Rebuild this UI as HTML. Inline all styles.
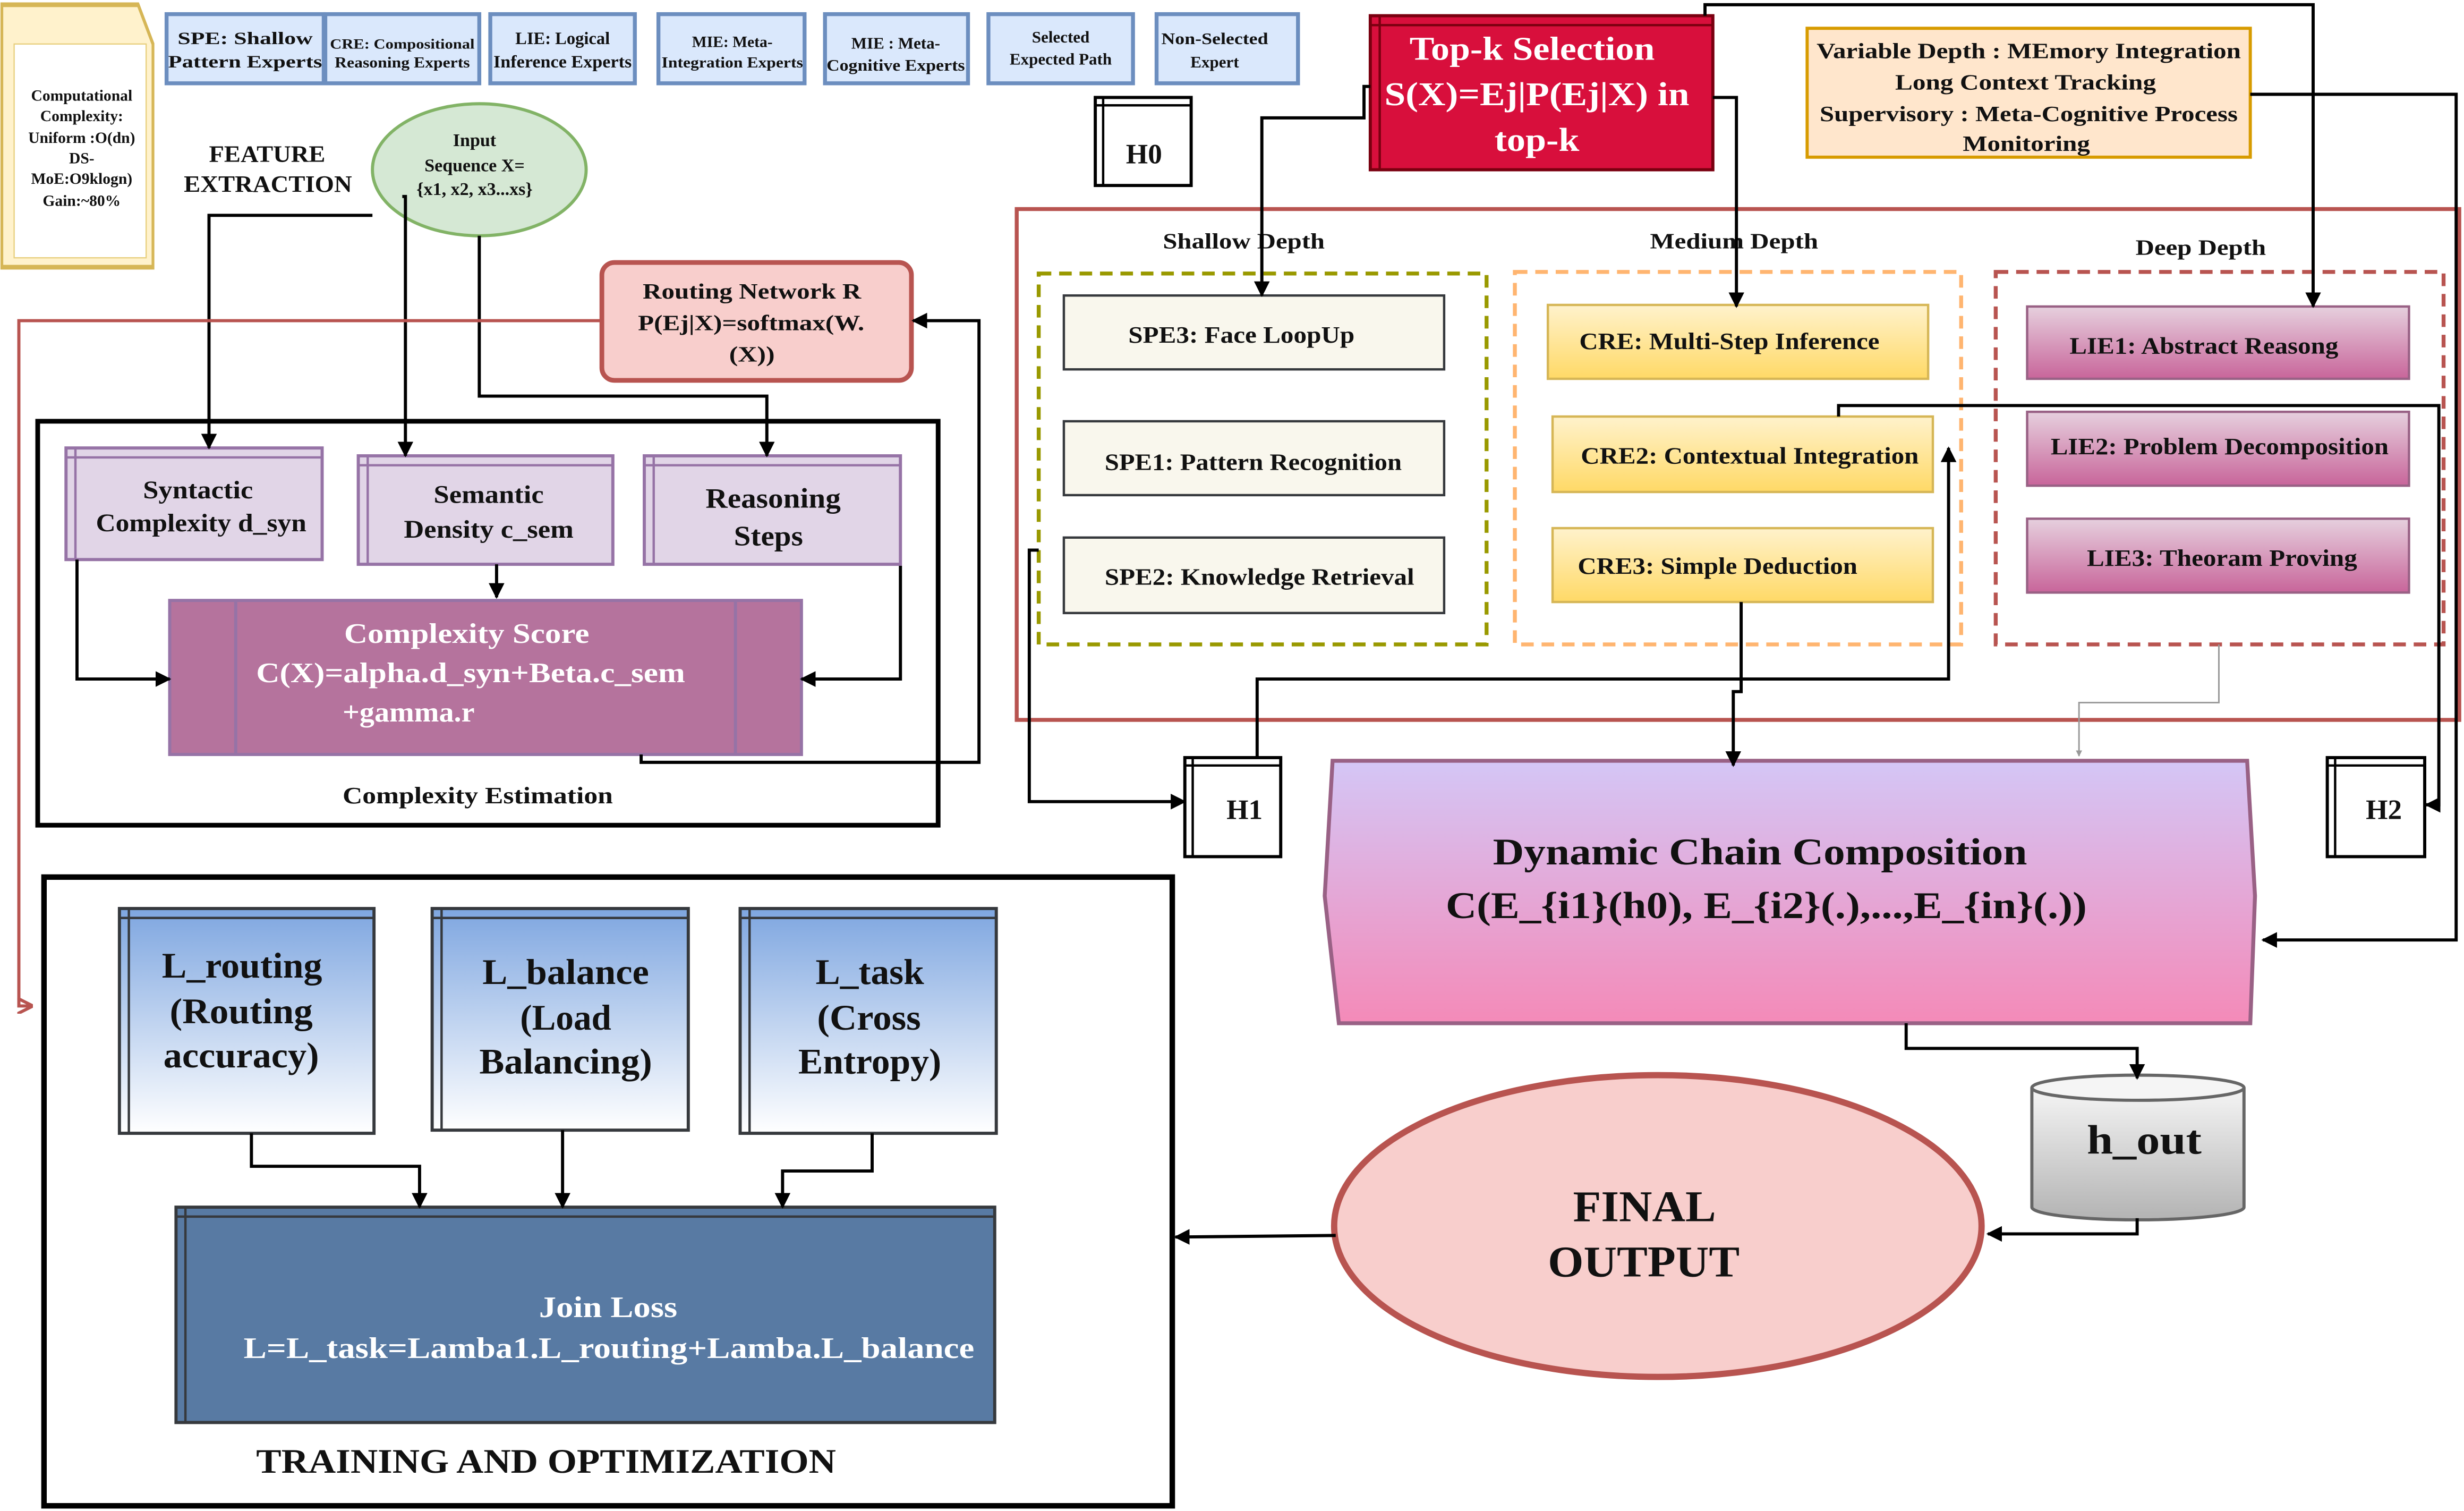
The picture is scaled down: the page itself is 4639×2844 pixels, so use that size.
<!DOCTYPE html>
<html><head><meta charset="utf-8"><style>
html,body{margin:0;padding:0;background:#fff;}
svg{display:block;}
text{font-family:"Liberation Serif",serif;font-weight:bold;fill:#111;}
</style></head><body>
<svg width="4639" height="2844" viewBox="0 0 1568 961.3" preserveAspectRatio="none" xmlns="http://www.w3.org/2000/svg">
<defs>
<marker id="a" viewBox="0 0 10 10" refX="9" refY="5" markerWidth="5" markerHeight="5" orient="auto"><path d="M0,0 L10,5 L0,10 z" fill="#000"/></marker>
<marker id="ar" viewBox="0 0 10 10" refX="9" refY="5" markerWidth="5" markerHeight="5" orient="auto"><path d="M0,0 L10,5 L0,10" fill="none" stroke="#b85450" stroke-width="2"/></marker>
<marker id="ag" viewBox="0 0 10 10" refX="9" refY="5" markerWidth="4" markerHeight="4" orient="auto"><path d="M0,0 L10,5 L0,10 z" fill="#999"/></marker>
<linearGradient id="gy" x1="0" y1="0" x2="0" y2="1"><stop offset="0" stop-color="#fff2cc"/><stop offset="1" stop-color="#ffd966"/></linearGradient>
<linearGradient id="gp" x1="0" y1="0" x2="0" y2="1"><stop offset="0" stop-color="#e6d0de"/><stop offset="1" stop-color="#c8659a"/></linearGradient>
<linearGradient id="gb" x1="0" y1="0" x2="0" y2="1"><stop offset="0" stop-color="#7ea6e0"/><stop offset="1" stop-color="#ffffff"/></linearGradient>
<linearGradient id="gd" x1="0" y1="0" x2="0" y2="1"><stop offset="0" stop-color="#d4c6f6"/><stop offset="1" stop-color="#f48ab8"/></linearGradient>
<linearGradient id="gg" x1="0" y1="0" x2="0" y2="1"><stop offset="0" stop-color="#f5f5f5"/><stop offset="1" stop-color="#b3b3b3"/></linearGradient>
</defs>

<!-- note -->
<path d="M2,3 L149,3 L165,28 L165,170 L2,170 Z" transform="scale(0.59,1)" fill="#fff2cc" stroke="#d6b656" stroke-width="3"/>
<rect x="9" y="28" width="84" height="136" fill="#fff" stroke="#e8d080" stroke-width="0.8"/>
<g font-size="10" text-anchor="middle">
<text x="52" y="64">Computational</text><text x="52" y="77">Complexity:</text><text x="52" y="91">Uniform :O(dn)</text><text x="52" y="104">DS-</text><text x="52" y="117">MoE:O9klogn)</text><text x="52" y="131">Gain:~80%</text>
</g>

<!-- legend -->
<g fill="#dae8fc" stroke="#6c8ebf" stroke-width="2.5">
<rect x="106" y="9" width="100" height="44"/><rect x="207" y="9" width="98" height="44"/><rect x="312" y="9" width="92" height="44"/><rect x="419" y="9" width="93" height="44"/><rect x="525" y="9" width="91" height="44"/><rect x="629" y="9" width="92" height="44"/><rect x="736" y="9" width="90" height="44"/>
</g>
<g font-size="11" text-anchor="middle" lengthAdjust="spacingAndGlyphs">
<text x="156" y="28" textLength="86" lengthAdjust="spacingAndGlyphs">SPE: Shallow</text><text x="156" y="43" textLength="98" lengthAdjust="spacingAndGlyphs">Pattern Experts</text>
<text x="256" y="31" font-size="9" textLength="92" lengthAdjust="spacingAndGlyphs">CRE: Compositional</text><text x="256" y="43" font-size="9.5" textLength="86" lengthAdjust="spacingAndGlyphs">Reasoning Experts</text>
<text x="358" y="28">LIE: Logical</text><text x="358" y="43" textLength="88" lengthAdjust="spacingAndGlyphs">Inference Experts</text>
<text x="466" y="30" font-size="10">MIE: Meta-</text><text x="466" y="43" font-size="9.5" textLength="90" lengthAdjust="spacingAndGlyphs">Integration Experts</text>
<text x="570" y="31" font-size="10.5">MIE : Meta-</text><text x="570" y="45" font-size="10.5" textLength="88" lengthAdjust="spacingAndGlyphs">Cognitive Experts</text>
<text x="675" y="27" font-size="10.5">Selected</text><text x="675" y="41" font-size="10.5">Expected Path</text>
<text x="773" y="28" font-size="10.5" textLength="68" lengthAdjust="spacingAndGlyphs">Non-Selected</text><text x="773" y="43" font-size="10.5">Expert</text>
</g>

<!-- H0 -->
<rect x="697" y="62" width="61" height="56" fill="#fff" stroke="#000" stroke-width="2"/>
<line x1="702" y1="62" x2="702" y2="118" stroke="#000" stroke-width="1.5"/><line x1="697" y1="67" x2="758" y2="67" stroke="#000" stroke-width="1.5"/>
<text x="728" y="104" font-size="18" text-anchor="middle">H0</text>

<!-- top-k -->
<rect x="872" y="10" width="218" height="98" fill="#d80f3c" stroke="#7a0010" stroke-width="2"/>
<line x1="878" y1="10" x2="878" y2="108" stroke="#7a0010" stroke-width="1.5"/><line x1="872" y1="16" x2="1090" y2="16" stroke="#7a0010" stroke-width="1.5"/>
<g font-size="21"><text x="897" y="38" style="fill:#fff" textLength="156" lengthAdjust="spacingAndGlyphs">Top-k Selection</text><text x="881" y="67" style="fill:#fff" textLength="194" lengthAdjust="spacingAndGlyphs">S(X)=Ej|P(Ej|X) in</text><text x="951" y="96" style="fill:#fff" textLength="54" lengthAdjust="spacingAndGlyphs">top-k</text></g>

<!-- variable depth -->
<rect x="1150" y="18" width="282" height="82" fill="#ffe6cc" stroke="#d79b00" stroke-width="2"/>
<g font-size="14"><text x="1156" y="37" textLength="270" lengthAdjust="spacingAndGlyphs">Variable Depth : MEmory Integration</text><text x="1206" y="57" textLength="166" lengthAdjust="spacingAndGlyphs">Long Context Tracking</text><text x="1158" y="77" textLength="266" lengthAdjust="spacingAndGlyphs">Supervisory : Meta-Cognitive Process</text><text x="1249" y="96" textLength="81" lengthAdjust="spacingAndGlyphs">Monitoring</text></g>

<!-- feature extraction -->
<text x="133" y="103" font-size="15" textLength="74" lengthAdjust="spacingAndGlyphs">FEATURE</text><text x="117" y="122" font-size="15" textLength="107" lengthAdjust="spacingAndGlyphs">EXTRACTION</text>
<ellipse cx="305" cy="108" rx="68" ry="42" fill="#d5e8d4" stroke="#82b366" stroke-width="2"/>
<g font-size="11.5" text-anchor="middle"><text x="302" y="93">Input</text><text x="302" y="109">Sequence X=</text><text x="302" y="124">{x1, x2, x3...xs}</text></g>

<!-- routing -->
<rect x="383" y="167" width="197" height="75" rx="8" fill="#f8cecc" stroke="#b85450" stroke-width="3"/>
<g font-size="14"><text x="409" y="190" textLength="139" lengthAdjust="spacingAndGlyphs">Routing Network R</text><text x="406" y="210" textLength="144" lengthAdjust="spacingAndGlyphs">P(Ej|X)=softmax(W.</text><text x="464" y="230" textLength="29" lengthAdjust="spacingAndGlyphs">(X))</text></g>

<!-- complexity estimation -->
<rect x="24" y="268" width="573" height="257" fill="none" stroke="#000" stroke-width="3"/>
<text x="218" y="511" font-size="15" textLength="172" lengthAdjust="spacingAndGlyphs">Complexity Estimation</text>
<g fill="#e1d5e7" stroke="#9673a6" stroke-width="2">
<rect x="42" y="285" width="163" height="71"/><rect x="228" y="290" width="162" height="69"/><rect x="410" y="290" width="163" height="69"/>
</g>
<g stroke="#9673a6" stroke-width="1.5"><line x1="48" y1="285" x2="48" y2="356"/><line x1="42" y1="291" x2="205" y2="291"/><line x1="234" y1="290" x2="234" y2="359"/><line x1="228" y1="296" x2="390" y2="296"/><line x1="416" y1="290" x2="416" y2="359"/><line x1="410" y1="296" x2="573" y2="296"/></g>
<g font-size="16"><text x="91" y="317" textLength="70" lengthAdjust="spacingAndGlyphs">Syntactic</text><text x="61" y="338" textLength="134" lengthAdjust="spacingAndGlyphs">Complexity d_syn</text>
<text x="276" y="320" textLength="70" lengthAdjust="spacingAndGlyphs">Semantic</text><text x="257" y="342" textLength="108" lengthAdjust="spacingAndGlyphs">Density c_sem</text>
<text x="449" y="323" font-size="18" textLength="86" lengthAdjust="spacingAndGlyphs">Reasoning</text><text x="467" y="347" font-size="18" textLength="44" lengthAdjust="spacingAndGlyphs">Steps</text></g>
<rect x="108" y="382" width="402" height="98" fill="#b5739d" stroke="#9673a6" stroke-width="2"/>
<line x1="150" y1="382" x2="150" y2="480" stroke="#9673a6" stroke-width="2"/><line x1="468" y1="382" x2="468" y2="480" stroke="#9673a6" stroke-width="2"/>
<g font-size="18"><text x="219" y="409" style="fill:#fff" textLength="156" lengthAdjust="spacingAndGlyphs">Complexity Score</text><text x="163" y="434" style="fill:#fff" textLength="273" lengthAdjust="spacingAndGlyphs">C(X)=alpha.d_syn+Beta.c_sem</text><text x="218" y="459" style="fill:#fff" textLength="84" lengthAdjust="spacingAndGlyphs">+gamma.r</text></g>

<!-- big red container -->
<rect x="647" y="133" width="918" height="325" fill="none" stroke="#b85450" stroke-width="2.5"/>
<g font-size="14"><text x="740" y="158" textLength="103" lengthAdjust="spacingAndGlyphs">Shallow Depth</text><text x="1050" y="158" textLength="107" lengthAdjust="spacingAndGlyphs">Medium Depth</text><text x="1359" y="162" textLength="83" lengthAdjust="spacingAndGlyphs">Deep Depth</text></g>
<rect x="661" y="174" width="285" height="236" fill="none" stroke="#999900" stroke-width="2.5" stroke-dasharray="8,5"/>
<rect x="964" y="173" width="284" height="237" fill="none" stroke="#ffb570" stroke-width="2.5" stroke-dasharray="8,5"/>
<rect x="1270" y="173" width="285" height="237" fill="none" stroke="#b85450" stroke-width="2.5" stroke-dasharray="8,5"/>
<g fill="#f9f7ed" stroke="#36393d" stroke-width="1.5"><rect x="677" y="188" width="242" height="47"/><rect x="677" y="268" width="242" height="47"/><rect x="677" y="342" width="242" height="48"/></g>
<g font-size="15"><text x="718" y="218" textLength="144" lengthAdjust="spacingAndGlyphs">SPE3: Face LoopUp</text><text x="703" y="299" textLength="189" lengthAdjust="spacingAndGlyphs">SPE1: Pattern Recognition</text><text x="703" y="372" textLength="197" lengthAdjust="spacingAndGlyphs">SPE2: Knowledge Retrieval</text></g>
<g fill="url(#gy)" stroke="#d6b656" stroke-width="1.5"><rect x="985" y="194" width="242" height="47"/><rect x="988" y="265" width="242" height="48"/><rect x="988" y="336" width="242" height="47"/></g>
<g font-size="15"><text x="1005" y="222" textLength="191" lengthAdjust="spacingAndGlyphs">CRE: Multi-Step Inference</text><text x="1006" y="295" textLength="215" lengthAdjust="spacingAndGlyphs">CRE2: Contextual Integration</text><text x="1004" y="365" textLength="178" lengthAdjust="spacingAndGlyphs">CRE3: Simple Deduction</text></g>
<g fill="url(#gp)" stroke="#996185" stroke-width="1.5"><rect x="1290" y="195" width="243" height="46"/><rect x="1290" y="262" width="243" height="47"/><rect x="1290" y="330" width="243" height="47"/></g>
<g font-size="15"><text x="1317" y="225" textLength="171" lengthAdjust="spacingAndGlyphs">LIE1: Abstract Reasong</text><text x="1305" y="289" textLength="215" lengthAdjust="spacingAndGlyphs">LIE2: Problem Decomposition</text><text x="1328" y="360" textLength="172" lengthAdjust="spacingAndGlyphs">LIE3: Theoram Proving</text></g>

<!-- H1 H2 -->
<rect x="754" y="482" width="61" height="63" fill="#fff" stroke="#000" stroke-width="2"/><line x1="759" y1="482" x2="759" y2="545" stroke="#000" stroke-width="1.5"/><line x1="754" y1="487" x2="815" y2="487" stroke="#000" stroke-width="1.5"/>
<text x="792" y="521" font-size="18" text-anchor="middle">H1</text>
<rect x="1481" y="482" width="62" height="63" fill="#fff" stroke="#000" stroke-width="2"/><line x1="1486" y1="482" x2="1486" y2="545" stroke="#000" stroke-width="1.5"/><line x1="1481" y1="487" x2="1543" y2="487" stroke="#000" stroke-width="1.5"/>
<text x="1517" y="521" font-size="18" text-anchor="middle">H2</text>

<!-- dynamic chain -->
<polygon points="848,484 1430,484 1435,570 1432,651 852,651 843,570" fill="url(#gd)" stroke="#996185" stroke-width="2.5"/>
<g font-size="24"><text x="950" y="550" textLength="340" lengthAdjust="spacingAndGlyphs">Dynamic Chain Composition</text><text x="920" y="584" textLength="408" lengthAdjust="spacingAndGlyphs">C(E_{i1}(h0), E_{i2}(.),...,E_{in}(.))</text></g>

<!-- h_out -->
<path d="M1293,692 L1293,768 A67,8 0 0 0 1428,768 L1428,692" fill="url(#gg)" stroke="#666" stroke-width="2"/>
<ellipse cx="1360.5" cy="692" rx="67.5" ry="8" fill="#f5f5f5" stroke="#666" stroke-width="2"/>
<text x="1328" y="734" font-size="26" textLength="73" lengthAdjust="spacingAndGlyphs">h_out</text>

<!-- final output -->
<ellipse cx="1055" cy="780" rx="206" ry="96" fill="#f8cecc" stroke="#b85450" stroke-width="4"/>
<g font-size="28"><text x="1001" y="777" textLength="91" lengthAdjust="spacingAndGlyphs">FINAL</text><text x="985" y="812" textLength="122" lengthAdjust="spacingAndGlyphs">OUTPUT</text></g>

<!-- training -->
<rect x="28" y="558" width="718" height="400" fill="none" stroke="#000" stroke-width="3.5"/>
<g fill="url(#gb)" stroke="#36393d" stroke-width="2"><rect x="76" y="578" width="162" height="143"/><rect x="275" y="578" width="163" height="141"/><rect x="471" y="578" width="163" height="143"/></g>
<g stroke="#36393d" stroke-width="1.5"><line x1="82" y1="578" x2="82" y2="721"/><line x1="76" y1="584" x2="238" y2="584"/><line x1="281" y1="578" x2="281" y2="719"/><line x1="275" y1="584" x2="438" y2="584"/><line x1="477" y1="578" x2="477" y2="721"/><line x1="471" y1="584" x2="634" y2="584"/></g>
<g font-size="23"><text x="103" y="622" textLength="102" lengthAdjust="spacingAndGlyphs">L_routing</text><text x="108" y="651" textLength="91" lengthAdjust="spacingAndGlyphs">(Routing</text><text x="104" y="679" textLength="99" lengthAdjust="spacingAndGlyphs">accuracy)</text>
<text x="307" y="626" textLength="106" lengthAdjust="spacingAndGlyphs">L_balance</text><text x="331" y="655" textLength="58" lengthAdjust="spacingAndGlyphs">(Load</text><text x="305" y="683" textLength="110" lengthAdjust="spacingAndGlyphs">Balancing)</text>
<text x="519" y="626" textLength="69" lengthAdjust="spacingAndGlyphs">L_task</text><text x="520" y="655" textLength="66" lengthAdjust="spacingAndGlyphs">(Cross</text><text x="508" y="683" textLength="91" lengthAdjust="spacingAndGlyphs">Entropy)</text></g>
<rect x="112" y="768" width="521" height="137" fill="#587aa3" stroke="#36393d" stroke-width="2"/>
<line x1="118" y1="768" x2="118" y2="905" stroke="#36393d" stroke-width="1.5"/><line x1="112" y1="774" x2="633" y2="774" stroke="#36393d" stroke-width="1.5"/>
<g font-size="19"><text x="343" y="838" style="fill:#fff" textLength="88" lengthAdjust="spacingAndGlyphs">Join Loss</text><text x="155" y="864" style="fill:#fff" textLength="465" lengthAdjust="spacingAndGlyphs">L=L_task=Lamba1.L_routing+Lamba.L_balance</text></g>
<text x="163" y="937" font-size="22" textLength="369" lengthAdjust="spacingAndGlyphs">TRAINING AND OPTIMIZATION</text>

<!-- connectors -->
<g fill="none" stroke="#000" stroke-width="2" marker-end="url(#a)">
<path d="M237,137 L133,137 L133,285"/>
<path d="M256,125 L258,125 L258,290"/>
<path d="M305,150 L305,252 L488,252 L488,290"/>
<path d="M316,359 L316,380"/>
<path d="M49,356 L49,432 L108,432"/>
<path d="M573,360 L573,432 L510,432"/>
<path d="M408,480 L408,485 L623,485 L623,204 L581,204"/>
<path d="M872,55 L868,55 L868,75 L803,75 L803,188"/>
<path d="M1090,62 L1105,62 L1105,195"/>
<path d="M1085,10 L1085,3 L1472,3 L1472,195"/>
<path d="M1432,60 L1563,60 L1563,598 L1440,598"/>
<path d="M661,350 L655,350 L655,510 L754,510"/>
<path d="M800,482 L800,432 L1240,432 L1240,285"/>
<path d="M1108,383 L1108,440 L1103,440 L1103,487"/>
<path d="M1170,265 L1170,258 L1552,258 L1552,512 L1544,512"/>
<path d="M1213,651 L1213,667 L1360,667 L1360,686"/>
<path d="M1360,775 L1360,785 L1265,785"/>
<path d="M850,786 L748,787"/>
<path d="M160,721 L160,742 L267,742 L267,768"/>
<path d="M358,719 L358,768"/>
<path d="M555,721 L555,745 L498,745 L498,768"/>
</g>
<path d="M383,204 L12,204 L12,640 L20,640" fill="none" stroke="#b85450" stroke-width="2" marker-end="url(#ar)"/>
<path d="M1412,410 L1412,447 L1323,447 L1323,481" fill="none" stroke="#999" stroke-width="1" marker-end="url(#ag)"/>
</svg>
</body></html>
